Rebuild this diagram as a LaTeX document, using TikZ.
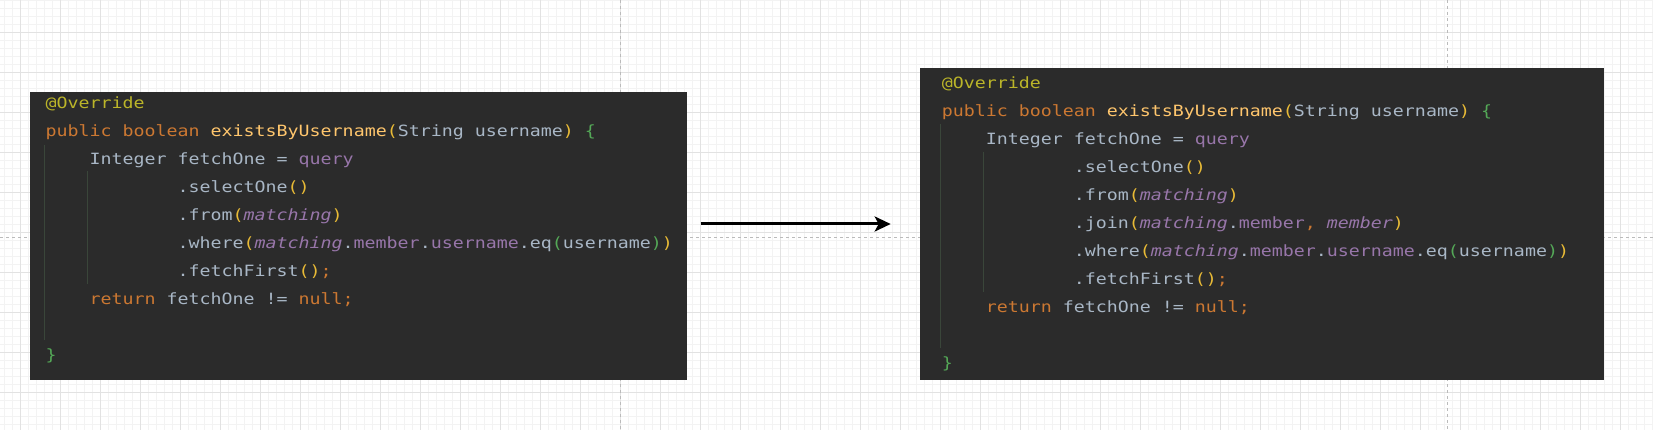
\documentclass[tikz,border=0pt]{standalone}
\usepackage{fontspec}
\newfontfamily\codefont[FakeStretch=1.179]{DejaVu Sans Mono}
\usetikzlibrary{arrows.meta}
\definecolor{boxbg}{HTML}{2B2B2B}
\definecolor{codefg}{HTML}{A9B7C6}
\definecolor{kw}{HTML}{CC7832}
\definecolor{ann}{HTML}{BBB529}
\definecolor{mth}{HTML}{FFC66D}
\definecolor{fld}{HTML}{9876AA}
\definecolor{gold}{HTML}{E8BA36}
\definecolor{grn}{HTML}{54A857}
\definecolor{guide}{HTML}{3A463A}
\definecolor{minorc}{HTML}{F3F3F3}
\definecolor{majorc}{HTML}{E2E2E2}
\definecolor{pagec}{HTML}{BBBBBB}
\newcommand\ckw[1]{\textcolor{kw}{#1}}
\newcommand\cann[1]{\textcolor{ann}{#1}}
\newcommand\cmth[1]{\textcolor{mth}{#1}}
\newcommand\cfld[1]{\textcolor{fld}{#1}}
\newcommand\cfli[1]{\textcolor{fld}{\itshape #1}}
\newcommand\cgo[1]{\textcolor{gold}{#1}}
\newcommand\cgr[1]{\textcolor{grn}{#1}}
\begin{document}
\begin{tikzpicture}[x=1pt,y=-1pt,
  minorline/.style={draw=minorc,line width=1pt},
  majorline/.style={draw=majorc,line width=1pt},
  pageline/.style={draw=pagec,line width=1pt,dash pattern=on 3pt off 3pt},
  codebox/.style={fill=boxbg,draw=none,inner sep=0pt,anchor=north west},
  code/.style={font=\codefont\fontsize{15.5pt}{18pt}\selectfont\frenchspacing,text=codefg,anchor=base west,inner sep=0pt},
  guideline/.style={draw=guide,line width=1pt},
  arrowline/.style={draw=black,line width=3pt,-{Stealth[length=16pt,width=15pt,inset=4pt]}}]
\useasboundingbox (0,0) rectangle (1653,430);
\fill[white] (0,0) rectangle (1653,430);
% grid
\foreach \i in {0,...,206} \draw[minorline] ({4.7+8*\i},0) -- ({4.7+8*\i},430);
\foreach \i in {0,...,53} \draw[minorline] (0,{0.3+8*\i}) -- (1653,{0.3+8*\i});
\foreach \i in {0,...,40} \draw[majorline] ({20.7+40*\i},0) -- ({20.7+40*\i},430);
\foreach \i in {0,...,9} \draw[majorline] (0,{32.3+40*\i}) -- (1653,{32.3+40*\i});
% page breaks
\draw[pageline] (620.5,0) -- (620.5,430);
\draw[pageline] (1447.5,0) -- (1447.5,430);
\draw[pageline] (0,237.3) -- (1653,237.3);
% boxes
\node[codebox,minimum width=657pt,minimum height=288pt] (leftbox) at (30,92) {};
\node[codebox,minimum width=684pt,minimum height=311.5pt] (rightbox) at (920,68) {};
% left guides
\draw[guideline] (44,144.7) -- (44,340);
\draw[guideline] (87.3,171) -- (87.3,283.7);
% right guides
\draw[guideline] (940,124) -- (940,347.7);
\draw[guideline] (983.3,151.7) -- (983.3,291.7);
% left code
\node[code] (L0) at (45.5,108.7) {\cann{@Override}};
\node[code] (L1) at (45.5,136.7) {\ckw{public boolean} \cmth{existsByUsername}\cgo{(}String username\cgo{)} \cgr{\{}};
\node[code] (L2) at (89.5,164.7) {Integer fetchOne = \cfld{query}};
\node[code] (L3) at (177.5,192.7) {.selectOne\cgo{()}};
\node[code] (L4) at (177.5,220.7) {.from\cgo{(}\cfli{matching}\cgo{)}};
\node[code] (L5) at (177.5,248.7) {.where\cgo{(}\cfli{matching}.\cfld{member}.\cfld{username}.eq\cgr{(}username\cgr{)}\cgo{)}};
\node[code] (L6) at (177.5,276.7) {.fetchFirst\cgo{()}\ckw{;}};
\node[code] (L7) at (89.5,304.7) {\ckw{return} fetchOne != \ckw{null;}};
\node[code] (L9) at (45.5,360.7) {\cgr{\}}};
% right code
\node[code] (R0) at (941.7,88.7) {\cann{@Override}};
\node[code] (R1) at (941.7,116.7) {\ckw{public boolean} \cmth{existsByUsername}\cgo{(}String username\cgo{)} \cgr{\{}};
\node[code] (R2) at (985.7,144.7) {Integer fetchOne = \cfld{query}};
\node[code] (R3) at (1073.7,172.7) {.selectOne\cgo{()}};
\node[code] (R4) at (1073.7,200.7) {.from\cgo{(}\cfli{matching}\cgo{)}};
\node[code] (R5) at (1073.7,228.7) {.join\cgo{(}\cfli{matching}.\cfld{member}\ckw{,} \cfli{member}\cgo{)}};
\node[code] (R6) at (1073.7,256.7) {.where\cgo{(}\cfli{matching}.\cfld{member}.\cfld{username}.eq\cgr{(}username\cgr{)}\cgo{)}};
\node[code] (R7) at (1073.7,284.7) {.fetchFirst\cgo{()}\ckw{;}};
\node[code] (R8) at (985.7,312.7) {\ckw{return} fetchOne != \ckw{null;}};
\node[code] (R10) at (941.7,368.7) {\cgr{\}}};
% arrow
\coordinate (arrowstart) at (700.7,224);
\coordinate (arrowend) at (890.7,224);
\draw[arrowline] (arrowstart) -- (arrowend);
\end{tikzpicture}
\end{document}
